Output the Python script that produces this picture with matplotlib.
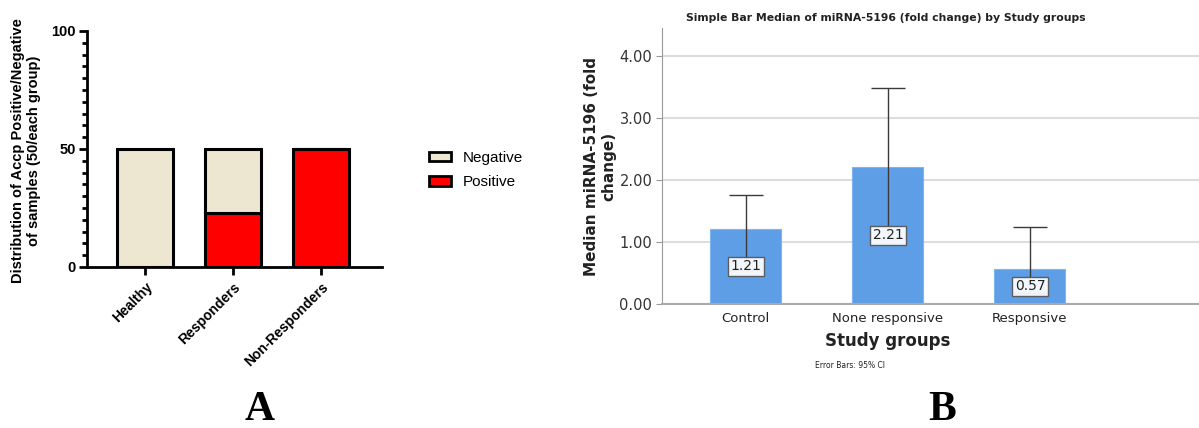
import matplotlib
matplotlib.use('Agg')
import matplotlib.pyplot as plt
from matplotlib.patches import Patch
from matplotlib.ticker import MultipleLocator

W, H = 1199, 428

# panel A: ACCP status per group (50 samples each)
groups_a = ['Healthy', 'Responders', 'Non-Responders']
positive = [0, 23, 50]
negative = [50, 27, 0]

# panel B: median miRNA-5196 fold change with 95% CI
groups_b = ['Control', 'None responsive', 'Responsive']
medians = [1.21, 2.21, 0.57]
ci_low = [0.55, 1.06, 0.17]
ci_high = [1.76, 3.48, 1.24]

beige = '#EDE6D1'
red = '#FF0000'
blue = '#5D9EE6'


def fx(px):
    return px / W


def fy(py):
    return 1 - py / H


fig = plt.figure(figsize=(W / 100, H / 100), dpi=100)

# ---------- panel A ----------
axA = fig.add_axes([fx(87), fy(267), fx(382 - 87), (267 - 31) / H])
xa = list(range(len(groups_a)))
axA.bar(xa, positive, width=0.64, color=red, edgecolor='black', linewidth=2.2, zorder=3)
axA.bar(xa, negative, width=0.64, bottom=positive, color=beige, edgecolor='black', linewidth=2.2, zorder=3)
axA.set_xlim(-0.66, 2.69)
axA.set_ylim(0, 100)
axA.set_yticks([0, 50, 100])
axA.yaxis.set_minor_locator(MultipleLocator(5))
axA.set_xticks(xa)
axA.set_xticklabels(groups_a, rotation=45, ha='right', rotation_mode='anchor',
                    fontsize=10, fontweight='bold', family='Liberation Sans')
for lab in axA.get_yticklabels():
    lab.set_fontweight('bold')
    lab.set_fontsize(10.5)
    lab.set_family('Liberation Sans')
for s in ['top', 'right']:
    axA.spines[s].set_visible(False)
for s in ['left', 'bottom']:
    axA.spines[s].set_linewidth(2)
axA.tick_params(axis='both', which='major', width=2, length=6)
axA.tick_params(axis='y', which='minor', width=2, length=3.5)
axA.tick_params(axis='y', pad=2)

fig.text(fx(26), fy(151), 'Distribution of Accp Positive/Negative\nof samples (50/each group)',
         rotation=90, ha='center', va='center', multialignment='center',
         fontsize=10.5, fontweight='bold', family='Liberation Sans')

handles = [Patch(facecolor=beige, edgecolor='black', linewidth=2, label='Negative'),
           Patch(facecolor=red, edgecolor='black', linewidth=2, label='Positive')]
fig.legend(handles=handles, loc='upper left', bbox_to_anchor=(fx(415), fy(137)),
           frameon=False, handlelength=1.45, handleheight=0.55, labelspacing=0.7,
           handletextpad=0.8, prop={'family': 'Liberation Sans', 'size': 11})

# ---------- panel B ----------
axB = fig.add_axes([fx(662), fy(304), fx(W - 662), (304 - 28) / H])
xb = list(range(len(groups_b)))
axB.bar(xb, medians, width=0.5, color=blue, edgecolor='#7FB3EE', linewidth=0.8, zorder=2)
err_lo = [m - lo for m, lo in zip(medians, ci_low)]
err_hi = [hi - m for m, hi in zip(medians, ci_high)]
axB.errorbar(xb, medians, yerr=[err_lo, err_hi], fmt='none', ecolor='#3a3a3a',
             elinewidth=1, capsize=12.5, capthick=1, zorder=3)
for x, m in zip(xb, medians):
    axB.text(x, m / 2, f'{m:.2f}', ha='center', va='center', fontsize=10, color='#222222',
             zorder=4, bbox=dict(boxstyle='square,pad=0.2', facecolor='white',
                                 edgecolor='#555555', linewidth=1, alpha=0.92))
axB.set_xlim(-0.59, 3.19)
axB.set_ylim(0, 4.45)
axB.set_yticks([0, 1, 2, 3, 4])
axB.set_yticklabels([f'{v:.2f}' for v in [0, 1, 2, 3, 4]], fontsize=10.5, color='#333333')
axB.set_xticks(xb)
axB.set_xticklabels(groups_b, fontsize=9.5, color='#222222')
axB.yaxis.grid(True, color='#DDDDDD', linewidth=1.5, zorder=0)
axB.set_axisbelow(True)
for s in ['top', 'right']:
    axB.spines[s].set_visible(False)
axB.spines['left'].set_color('#999999')
axB.spines['bottom'].set_color('#AAAAAA')
axB.spines['bottom'].set_linewidth(1.5)
axB.tick_params(axis='y', length=4, color='#999999', pad=3)
axB.tick_params(axis='x', length=0, pad=6)

fig.text(fx(600), fy(166), 'Median miRNA-5196 (fold\nchange)', rotation=90, ha='center',
         va='center', multialignment='center', fontsize=11, fontweight='bold', color='#222222')
fig.text(fx(886), fy(18), 'Simple Bar Median of miRNA-5196 (fold change) by Study groups',
         ha='center', va='center', fontsize=7.8, fontweight='bold', color='#222222')
fig.text(fx(888), fy(341), 'Study groups', ha='center', va='center',
         fontsize=12, fontweight='bold', color='#222222')
fig.text(fx(815), fy(365), 'Error Bars: 95% CI', ha='left', va='center',
         fontsize=5.5, color='#222222')

# panel letters
fig.text(fx(260), fy(410), 'A', ha='center', va='center', fontsize=30,
         fontweight='bold', family='Liberation Serif')
fig.text(fx(942), fy(410), 'B', ha='center', va='center', fontsize=30,
         fontweight='bold', family='Liberation Serif')

fig.savefig('out.png', dpi=100)
